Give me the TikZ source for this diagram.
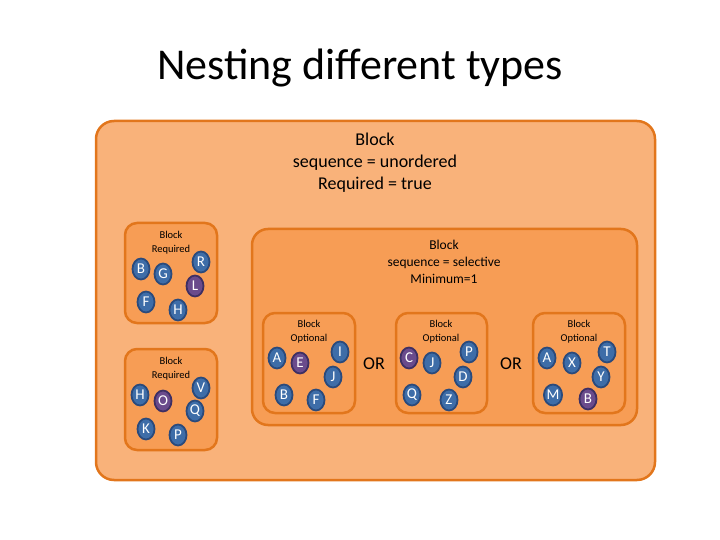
\documentclass[tikz,border=0pt]{standalone}
\usepackage{fontspec}
\setmainfont{Carlito}
\usetikzlibrary{shapes.geometric}
\definecolor{outerfill}{HTML}{F9B27A}
\definecolor{innerfill}{HTML}{F79D55}
\definecolor{boxline}{HTML}{E2761C}
\definecolor{bluefill}{HTML}{3E6DA8}
\definecolor{blueline}{HTML}{2A4A7C}
\definecolor{purpfill}{HTML}{6A4B8C}
\definecolor{purpline}{HTML}{3E2F63}
\tikzset{
  outerbox/.style={draw=boxline, line width=2.5pt, fill=outerfill, rounded corners=18pt},
  innerbox/.style={draw=boxline, line width=2.5pt, fill=innerfill, rounded corners=16pt},
  smallbox/.style={draw=boxline, line width=2.5pt, fill=innerfill, rounded corners=12pt},
  item/.style={ellipse, draw=blueline, line width=1.8pt, fill=bluefill, minimum width=17pt, minimum height=21pt, inner sep=0pt, text=white, font=\fontsize{15}{15}\selectfont},
  pitem/.style={item, draw=purpline, fill=purpfill},
  lbl/.style={align=center, inner sep=0pt},
  smlbl/.style={lbl, font=\fontsize{10.5}{14}\selectfont},
  orlbl/.style={inner sep=0pt, font=\fontsize{18}{18}\selectfont}
}
\begin{document}
\begin{tikzpicture}[x=1pt,y=-1pt]
\useasboundingbox (0,0) rectangle (720,540);
\node[inner sep=0pt, font=\fontsize{44}{44}\selectfont] (title) at (360,68) {Nesting different types};
% outer
\draw[outerbox] (96,121) rectangle (655,480);
\node[lbl, font=\fontsize{18}{22}\selectfont] (outerlbl) at (375,163) {Block\\sequence = unordered\\Required = true};
% small boxes
\draw[smallbox] (125,223) rectangle (217,323);
\node[smlbl] (b1lbl) at (171,242.5) {Block\\Required};
\node[item] (b1B) at (141,269) {B};
\node[item] (b1G) at (163,274) {G};
\node[item] (b1R) at (201,262) {R};
\node[pitem] (b1L) at (195,286) {L};
\node[item] (b1F) at (146,302) {F};
\node[item] (b1H) at (178,310) {H};
\draw[smallbox] (125,349) rectangle (217,450);
\node[smlbl] (b2lbl) at (171,368.5) {Block\\Required};
\node[item] (b2H) at (140,395) {H};
\node[pitem] (b2O) at (163,401) {O};
\node[item] (b2V) at (201,388) {V};
\node[item] (b2Q) at (195,411) {Q};
\node[item] (b2K) at (146,429) {K};
\node[item] (b2P) at (178,435) {P};
% selective
\draw[innerbox] (252,229) rectangle (637,425);
\node[lbl, font=\fontsize{13.5}{17}\selectfont] (sellbl) at (444,262) {Block\\sequence = selective\\Minimum=1};
% optional A
\draw[smallbox] (263,313) rectangle (355,413);
\node[smlbl] (oAlbl) at (309,332) {Block\\Optional};
\node[item] (oAA) at (277,358) {A};
\node[pitem] (oAE) at (300,363) {E};
\node[item] (oAI) at (340,352) {I};
\node[item] (oAJ) at (333,377) {J};
\node[item] (oAB) at (284,395) {B};
\node[item] (oAF) at (316,400) {F};
\node[orlbl] (or1) at (374,364) {OR};
% optional C
\draw[smallbox] (396,313) rectangle (487,413);
\node[smlbl] (oClbl) at (441,332) {Block\\Optional};
\node[pitem] (oCC) at (409,358) {C};
\node[item] (oCJ) at (432,363) {J};
\node[item] (oCP) at (469,352) {P};
\node[item] (oCD) at (463,377) {D};
\node[item] (oCQ) at (412,395) {Q};
\node[item] (oCZ) at (449,400) {Z};
\node[orlbl] (or2) at (511,364) {OR};
% optional M
\draw[smallbox] (533,313) rectangle (625,413);
\node[smlbl] (oMlbl) at (579,332) {Block\\Optional};
\node[item] (oMA) at (547,358) {A};
\node[item] (oMX) at (572,363) {X};
\node[item] (oMT) at (607,352) {T};
\node[item] (oMY) at (601,377) {Y};
\node[item] (oMM) at (553,395) {M};
\node[pitem] (oMB) at (588,399) {B};
\end{tikzpicture}
\end{document}
